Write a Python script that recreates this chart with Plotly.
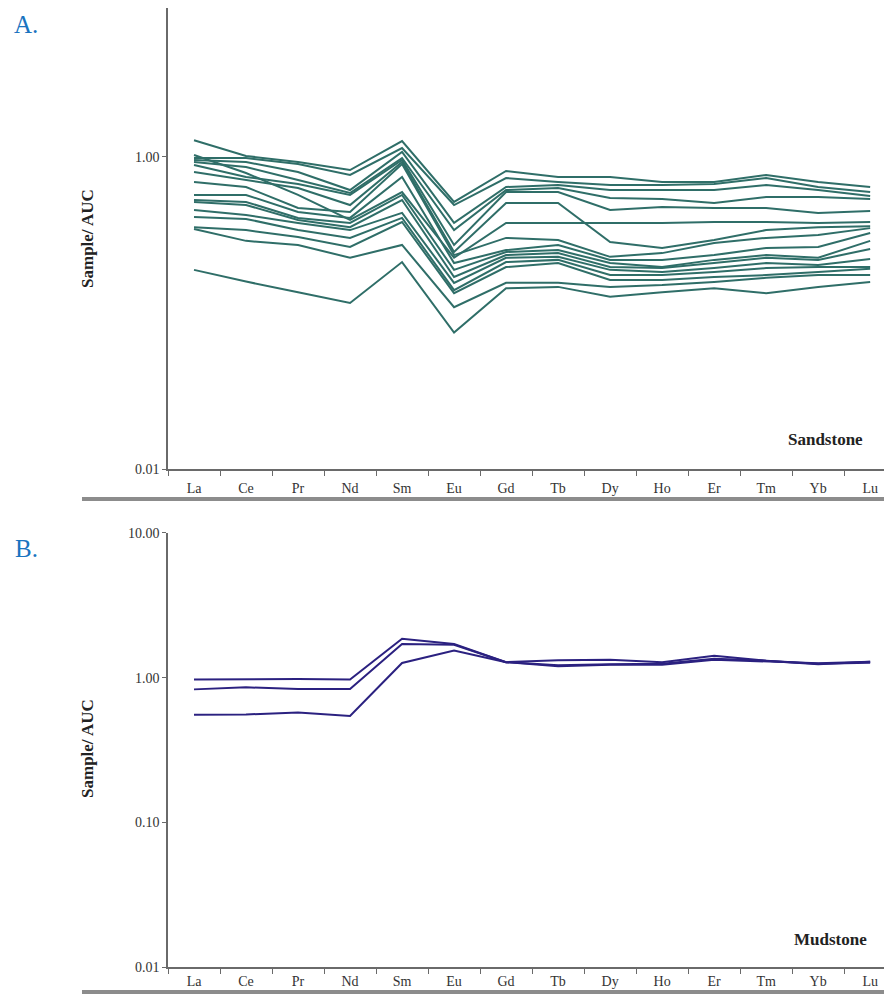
import plotly.graph_objects as go

elements = ["La", "Ce", "Pr", "Nd", "Sm", "Eu", "Gd", "Tb", "Dy", "Ho", "Er", "Tm", "Yb", "Lu"]

# Panel A: sandstone samples (Sample / AUC)
S1 = [1.28, 1.015, 0.929, 0.825, 1.266, 0.515, 0.813, 0.744, 0.744, 0.691, 0.691, 0.767, 0.691, 0.642]
S2 = [1.03, 0.789, 0.571, 0.395, 0.596, 0.226, 0.378, 0.378, 0.378, 0.378, 0.383, 0.383, 0.378, 0.383]
S3 = [0.985, 0.985, 0.902, 0.767, 1.142, 0.492, 0.733, 0.691, 0.661, 0.661, 0.671, 0.733, 0.642, 0.596]
S4 = [0.957, 0.929, 0.801, 0.614, 1.077, 0.378, 0.642, 0.661, 0.614, 0.614, 0.614, 0.661, 0.614, 0.562]
S5 = [0.929, 0.863, 0.712, 0.588, 0.985, 0.340, 0.614, 0.633, 0.546, 0.538, 0.507, 0.554, 0.554, 0.538]
S6 = [0.889, 0.744, 0.671, 0.571, 0.957, 0.273, 0.596, 0.596, 0.457, 0.478, 0.471, 0.471, 0.438, 0.451]
S7 = [0.801, 0.712, 0.633, 0.492, 0.929, 0.246, 0.507, 0.507, 0.285, 0.261, 0.294, 0.340, 0.355, 0.360]
S8 = [0.691, 0.642, 0.471, 0.444, 0.902, 0.235, 0.303, 0.294, 0.229, 0.242, 0.281, 0.303, 0.316, 0.350]
S9 = [0.571, 0.571, 0.444, 0.407, 0.744, 0.209, 0.253, 0.273, 0.219, 0.219, 0.235, 0.261, 0.265, 0.326]
S10 = [0.530, 0.515, 0.407, 0.378, 0.571, 0.189, 0.246, 0.253, 0.209, 0.197, 0.219, 0.235, 0.226, 0.290]
S11 = [0.515, 0.492, 0.395, 0.355, 0.530, 0.170, 0.235, 0.242, 0.197, 0.194, 0.209, 0.226, 0.219, 0.257]
S12 = [0.457, 0.425, 0.378, 0.340, 0.438, 0.156, 0.226, 0.229, 0.189, 0.183, 0.194, 0.209, 0.203, 0.222]
S13 = [0.413, 0.401, 0.340, 0.303, 0.407, 0.140, 0.212, 0.219, 0.175, 0.175, 0.183, 0.194, 0.197, 0.197]
S14 = [0.355, 0.340, 0.307, 0.265, 0.383, 0.134, 0.197, 0.209, 0.163, 0.163, 0.170, 0.175, 0.183, 0.192]
S15 = [0.345, 0.290, 0.273, 0.226, 0.273, 0.109, 0.156, 0.156, 0.147, 0.151, 0.158, 0.168, 0.175, 0.175]
S16 = [0.189, 0.159, 0.136, 0.116, 0.212, 0.075, 0.144, 0.147, 0.127, 0.136, 0.144, 0.134, 0.147, 0.158]
sandstone = [S1, S2, S3, S4, S5, S6, S7, S8, S9, S10, S11, S12, S13, S14, S15, S16]

# Panel B: mudstone samples (Sample / AUC)
M1 = [0.97, 0.98, 0.98, 0.97, 1.86, 1.71, 1.28, 1.32, 1.33, 1.28, 1.42, 1.31, 1.24, 1.29]
M2 = [0.83, 0.857, 0.835, 0.835, 1.71, 1.69, 1.28, 1.20, 1.23, 1.23, 1.33, 1.30, 1.26, 1.29]
M3 = [0.555, 0.557, 0.575, 0.543, 1.264, 1.54, 1.28, 1.22, 1.24, 1.25, 1.35, 1.31, 1.25, 1.27]
mudstone = [M1, M2, M3]

yticks_A = [0.01, 1]
yticklabels_A = ["0.01", "1.00"]
yticks_B = [0.01, 0.1, 1, 10]
yticklabels_B = ["0.01", "0.10", "1.00", "10.00"]

TEAL = "#2f6e68"
NAVY = "#2b2180"
AX = "#6a6a6a"
SERIF = "Liberation Serif"

fig = go.Figure()
for s in sandstone:
    fig.add_trace(go.Scatter(x=elements, y=s, mode="lines", xaxis="x", yaxis="y",
                             line=dict(color=TEAL, width=2), showlegend=False, hoverinfo="skip"))
for s in mudstone:
    fig.add_trace(go.Scatter(x=elements, y=s, mode="lines", xaxis="x2", yaxis="y2",
                             line=dict(color=NAVY, width=2), showlegend=False, hoverinfo="skip"))

W, H = 884, 986
xcommon = dict(type="category", categoryorder="array", categoryarray=elements,
               range=[-0.5, 13.42], domain=[0, 1], showgrid=False, zeroline=False,
               showline=True, linecolor=AX, linewidth=1.5, ticks="outside", ticklen=5,
               tickcolor=AX, tickwidth=1.2, tickson="boundaries",
               tickfont=dict(family=SERIF, size=14, color="#333"), automargin=False)
ycommon = dict(type="log", showgrid=False, zeroline=False, showline=True, linecolor=AX,
               linewidth=1.5, ticks="outside", ticklen=4, tickcolor=AX, tickwidth=1.2,
               tickfont=dict(family=SERIF, size=14, color="#333"), automargin=False)

fig.update_layout(
    width=W, height=H, autosize=False,
    margin=dict(l=160, r=0, t=0, b=0, pad=0),
    paper_bgcolor="white", plot_bgcolor="white",
    xaxis=dict(anchor="y", ticklabelstandoff=5, **xcommon),
    xaxis2=dict(anchor="y2", ticklabelstandoff=0, **xcommon),
    yaxis=dict(anchor="x", domain=[0.53245, 1.0], range=[-2, 0.955],
               tickvals=yticks_A, ticktext=yticklabels_A, **ycommon),
    yaxis2=dict(anchor="x2", domain=[0.02738, 0.46755], range=[-2, 1],
                tickvals=yticks_B, ticktext=yticklabels_B, **ycommon),
)

def label(text, x, y, size, color="#222", angle=0):
    return dict(text=text, x=x, y=y, xref="paper", yref="paper", showarrow=False,
                xanchor="center", yanchor="middle", textangle=angle,
                font=dict(family=SERIF, size=size, color=color))

ann = [
    label("A.", -0.1961, 0.98276, 25, "#1a74c0"),
    label("B.", -0.1961, 0.45233, 25, "#1a74c0"),
    label("<b>Sample/ AUC</b>", -0.1119, 0.76673, 17, angle=-90),
    label("<b>Sample/ AUC</b>", -0.1119, 0.24949, 17, angle=-90),
    label("<b>Sandstone</b>", 0.9075, 0.56187, 17),
    label("<b>Mudstone</b>", 0.9144, 0.05477, 17),
]
fig.update_layout(annotations=ann)

fig.add_shape(type="rect", xref="paper", yref="paper", x0=-0.1188, x1=1.0, y0=0.5, y1=0.50406,
              fillcolor="#8c8c8c", line=dict(width=0), layer="below")
fig.add_shape(type="rect", xref="paper", yref="paper", x0=-0.1188, x1=1.0, y0=0.0, y1=0.00406,
              fillcolor="#8c8c8c", line=dict(width=0), layer="below")

fig.write_html("out.html")
